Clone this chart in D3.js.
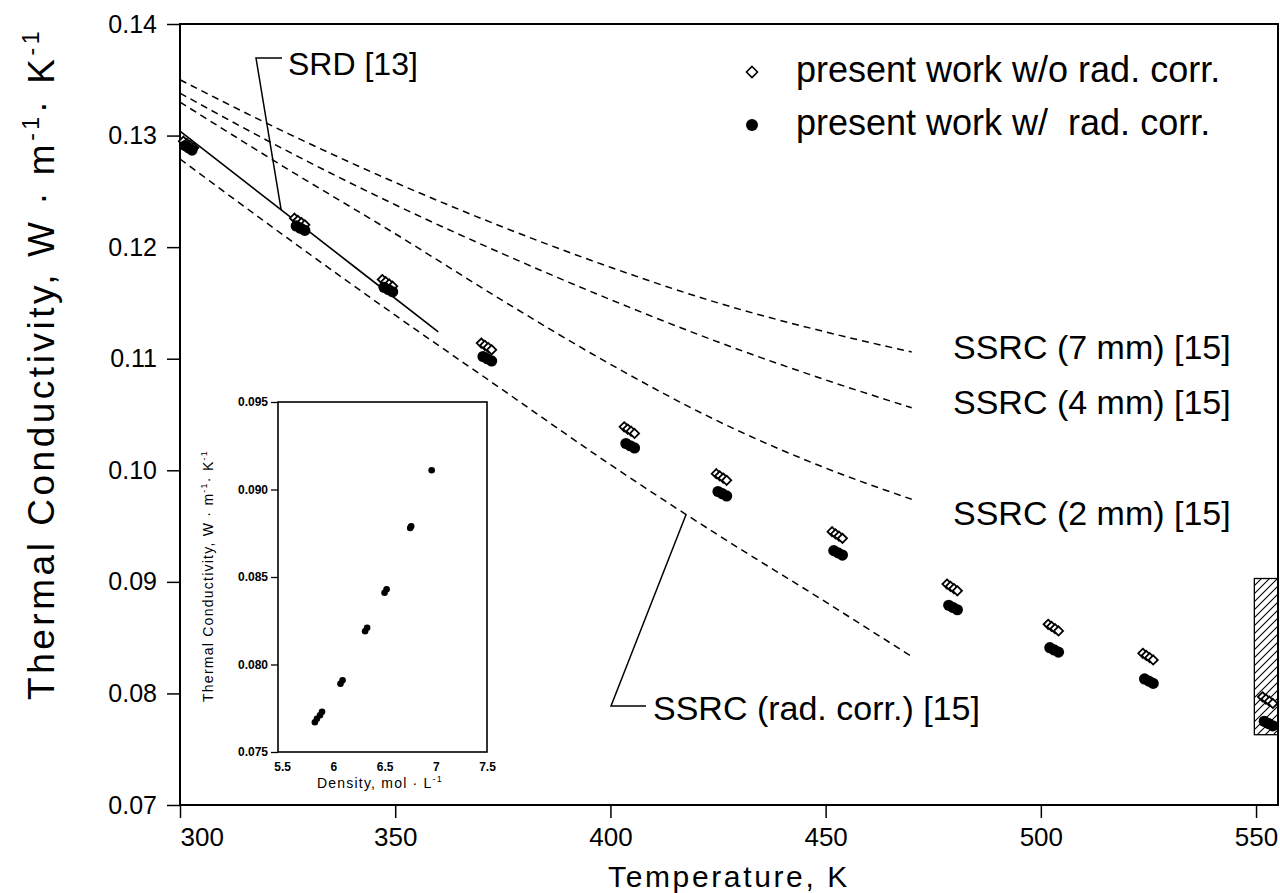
<!DOCTYPE html>
<html lang="en">

<head>
    <meta charset="utf-8">
    <title>Thermal conductivity vs temperature</title>
    <script type="text/javascript" src="https://d3js.org/d3.v7.min.js"></script>
    <style>
        body { margin: 0; background: #fff; }
        text { font-family: "Liberation Sans", Arial, Helvetica, sans-serif; fill: #000; }
    </style>
</head>

<body>
    <div id="container"></div>
    <script type="text/javascript">
        // tick values
        var tempTicks = [300, 350, 400, 450, 500, 550];
        var condTicks = [0.07, 0.08, 0.09, 0.10, 0.11, 0.12, 0.13, 0.14];
        var densTicks = [5.5, 6, 6.5, 7, 7.5];
        var insetCondTicks = [0.075, 0.080, 0.085, 0.090, 0.095];

        // present work w/o rad. corr. [T (K), lambda (W/m/K)]
        var woRadCorr = [
            [300.8, 0.1295], [301.6, 0.1293], [302.4, 0.1291], [303.2, 0.1289],
            [326.6, 0.1226], [327.4, 0.1224], [328.2, 0.1222], [329.0, 0.1220],
            [347.0, 0.1171], [347.8, 0.1169], [348.6, 0.1167], [349.4, 0.1165],
            [370.0, 0.1114], [370.8, 0.1112], [371.6, 0.1110], [372.4, 0.1108],
            [403.2, 0.1039], [404.0, 0.1037], [404.8, 0.1035], [405.6, 0.1033],
            [424.6, 0.0997], [425.4, 0.0995], [426.2, 0.0993], [427.0, 0.0991],
            [451.5, 0.0945], [452.3, 0.0943], [453.1, 0.0941], [453.9, 0.0939],
            [478.2, 0.0898], [479.0, 0.0896], [479.8, 0.0894], [480.6, 0.0892],
            [501.7, 0.0862], [502.5, 0.0860], [503.3, 0.0858], [504.1, 0.0856],
            [523.7, 0.0836], [524.5, 0.0834], [525.3, 0.0832], [526.1, 0.0830],
            [551.5, 0.0797], [552.3, 0.0795], [553.1, 0.0793], [553.9, 0.0791]
        ];

        // present work w/ rad. corr.
        var wRadCorr = [
            [301.2, 0.1291], [302.0, 0.1289], [302.8, 0.1287],
            [327.0, 0.1219], [328.0, 0.1217], [329.0, 0.1215],
            [347.4, 0.1164], [348.4, 0.1162], [349.4, 0.1160],
            [370.4, 0.1102], [371.4, 0.1100], [372.4, 0.1098],
            [403.6, 0.1024], [404.6, 0.1022], [405.6, 0.1020],
            [425.0, 0.0981], [426.0, 0.0979], [427.0, 0.0977],
            [451.9, 0.0928], [452.9, 0.0926], [453.9, 0.0924],
            [478.6, 0.0879], [479.6, 0.0877], [480.6, 0.0875],
            [502.1, 0.0841], [503.1, 0.0839], [504.1, 0.0837],
            [524.1, 0.0813], [525.1, 0.0811], [526.1, 0.0809],
            [551.9, 0.0775], [552.9, 0.0773], [553.9, 0.0771]
        ];

        // correlations
        var srd = [[300, 0.1304], [320, 0.1244], [340, 0.1184], [360, 0.1124]];
        var ssrc7mm = [[300, 0.1350], [325, 0.1302], [350, 0.1258], [375, 0.1218], [400, 0.1182], [425, 0.1150], [450, 0.1124], [470, 0.1106]];
        var ssrc4mm = [[300, 0.1338], [325, 0.1286], [350, 0.1238], [375, 0.1194], [400, 0.1153], [425, 0.1115], [450, 0.1081], [470, 0.1056]];
        var ssrc2mm = [[300, 0.1330], [325, 0.1270], [350, 0.1212], [375, 0.1152], [400, 0.1095], [425, 0.1044], [450, 0.1002], [470, 0.0974]];
        var ssrcRad = [[300, 0.1279], [325, 0.1208], [350, 0.1139], [375, 0.1072], [400, 0.1005], [425, 0.0942], [450, 0.0882], [470, 0.0833]];

        // hatched uncertainty band near 553 K: [T0, T1, lambda0, lambda1]
        var bandBox = [549.6, 555.1, 0.0763, 0.0903];

        // inset: density (mol/L) vs lambda
        var insetPoints = [
            [6.96, 0.0911],
            [6.75, 0.0878], [6.76, 0.0879],
            [6.50, 0.0841], [6.52, 0.0843],
            [6.31, 0.0819], [6.33, 0.0821],
            [6.07, 0.0789], [6.09, 0.0791],
            [5.87, 0.0771], [5.89, 0.0773],
            [5.82, 0.0767], [5.84, 0.0769]
        ];

        var legendLabels = ["present work w/o rad. corr.", "present work w/\u00a0 rad. corr."];
        var curveLabels = ["SSRC (7 mm) [15]", "SSRC (4 mm) [15]", "SSRC (2 mm) [15]", "SSRC (rad. corr.) [15]", "SRD [13]"];

        var w = 1280;
        var h = 893;
        const svg = d3.select("div#container")
            .append("svg")
            .attr("width", w)
            .attr("height", h)
            .style("background-color", "#fff");

        var x = d3.scaleLinear().domain([300, 555.1]).range([180, 1278]);
        var y = d3.scaleLinear().domain([0.07, 0.14]).range([805, 24]);

        // linear lookup along a curve
        function valueAt(series, t) {
            for (var i = 1; i < series.length; i++) {
                if (t <= series[i][0]) {
                    var a = series[i - 1], b = series[i];
                    return a[1] + (b[1] - a[1]) * (t - a[0]) / (b[0] - a[0]);
                }
            }
            return series[series.length - 1][1];
        }

        // stretch a text element to a given length with letter spacing
        function spreadTo(sel, target) {
            var node = sel.node();
            var len = node.getComputedTextLength();
            var n = node.textContent.length;
            sel.attr("letter-spacing", (target - len) / n);
        }

        function unitText(sel, before, mid) {
            sel.append("tspan").text(before);
            sel.append("tspan").attr("class", "sup").text("-1");
            if (mid != null) {
                sel.append("tspan").attr("class", "after").text(mid);
                sel.append("tspan").attr("class", "sup2").text("-1");
            }
        }

        // hatch pattern
        svg.append("defs").append("pattern")
            .attr("id", "hatch")
            .attr("patternUnits", "userSpaceOnUse")
            .attr("width", 8).attr("height", 8)
            .append("path")
            .attr("d", "M-2,2 l4,-4 M0,8 l8,-8 M6,10 l4,-4")
            .attr("stroke", "#000")
            .attr("stroke-width", 1.1);

        // axes
        var xAxis = svg.append("g")
            .attr("transform", "translate(0," + y(0.07) + ")")
            .call(d3.axisBottom(x).tickValues(tempTicks).tickSize(13).tickPadding(10).tickFormat(d3.format("d")));
        xAxis.select(".domain").remove();
        xAxis.selectAll("line").attr("stroke-width", 1.5);
        xAxis.selectAll("text").attr("font-size", 26).attr("font-family", "Liberation Sans, Arial, sans-serif");
        xAxis.selectAll("text").filter((d) => d === 300).attr("text-anchor", "start");

        var yAxis = svg.append("g")
            .attr("transform", "translate(" + x(300) + ",0)")
            .call(d3.axisLeft(y).tickValues(condTicks).tickSize(13).tickPadding(10).tickFormat(d3.format(".2f")));
        yAxis.select(".domain").remove();
        yAxis.selectAll("line").attr("stroke-width", 1.5);
        yAxis.selectAll("text").attr("font-size", 25).attr("font-family", "Liberation Sans, Arial, sans-serif");

        // frame
        svg.append("rect")
            .attr("x", x(300)).attr("y", y(0.14))
            .attr("width", x(555.1) - x(300)).attr("height", y(0.07) - y(0.14))
            .attr("fill", "none").attr("stroke", "#000").attr("stroke-width", 2);

        // axis titles
        var xt = svg.append("text")
            .attr("x", 608).attr("y", 887)
            .attr("font-size", 30)
            .text("Temperature, K");
        spreadTo(xt, 242);

        var yt = svg.append("text")
            .attr("transform", "translate(54,700) rotate(-90)")
            .attr("font-size", 37);
        unitText(yt, "Thermal Conductivity, W \u00b7 m", "\u00b7 K");
        yt.selectAll(".sup, .sup2").attr("font-size", 23).attr("dy", -15);
        yt.selectAll(".after").attr("dy", 15);
        spreadTo(yt, 672);

        // correlation lines
        var line = d3.line().x((d) => x(d[0])).y((d) => y(d[1]));
        var smooth = d3.line().x((d) => x(d[0])).y((d) => y(d[1])).curve(d3.curveMonotoneX);

        svg.selectAll("path.ssrc")
            .data([ssrc7mm, ssrc4mm, ssrc2mm, ssrcRad])
            .enter()
            .append("path")
            .attr("class", "ssrc")
            .attr("d", smooth)
            .attr("fill", "none")
            .attr("stroke", "#000")
            .attr("stroke-width", 1.5)
            .attr("stroke-dasharray", "7,5");

        svg.append("path")
            .attr("d", line(srd))
            .attr("fill", "none")
            .attr("stroke", "#000")
            .attr("stroke-width", 1.6);

        // hatched box
        svg.append("rect")
            .attr("x", x(bandBox[0])).attr("y", y(bandBox[3]))
            .attr("width", x(bandBox[1]) - x(bandBox[0]))
            .attr("height", y(bandBox[2]) - y(bandBox[3]))
            .attr("fill", "url(#hatch)")
            .attr("stroke", "#000")
            .attr("stroke-width", 1.3);

        // data points
        var diamond = (r) => "M0," + (-r) + "L" + r + ",0L0," + r + "L" + (-r) + ",0Z";

        svg.selectAll("path.wo")
            .data(woRadCorr)
            .enter()
            .append("path")
            .attr("class", "wo")
            .attr("d", diamond(4.6))
            .attr("transform", (d) => "translate(" + x(d[0]) + "," + y(d[1]) + ")")
            .attr("fill", "#fff")
            .attr("stroke", "#000")
            .attr("stroke-width", 1.8);

        svg.selectAll("circle.w")
            .data(wRadCorr)
            .enter()
            .append("circle")
            .attr("class", "w")
            .attr("cx", (d) => x(d[0]))
            .attr("cy", (d) => y(d[1]))
            .attr("r", 5.6)
            .attr("fill", "#000");

        // curve labels
        var labelPos = [[953, 359], [953, 414], [953, 525]];
        svg.selectAll("text.clabel")
            .data(labelPos)
            .enter()
            .append("text")
            .attr("class", "clabel")
            .attr("x", (d) => d[0])
            .attr("y", (d) => d[1])
            .attr("font-size", 34)
            .text((d, i) => curveLabels[i]);

        svg.append("text")
            .attr("x", 653).attr("y", 720)
            .attr("font-size", 34)
            .text(curveLabels[3]);

        svg.append("text")
            .attr("x", 288).attr("y", 75)
            .attr("font-size", 32)
            .text(curveLabels[4]);

        // leader lines
        var srdT = 323.5;
        svg.append("path")
            .attr("d", "M282,58H256L" + x(srdT) + "," + y(valueAt(srd, srdT)))
            .attr("fill", "none").attr("stroke", "#000").attr("stroke-width", 1.5);

        var radT = 417.6;
        svg.append("path")
            .attr("d", "M" + x(radT) + "," + y(valueAt(ssrcRad, radT)) + "L611,706H646")
            .attr("fill", "none").attr("stroke", "#000").attr("stroke-width", 1.5);

        // legend
        svg.append("path")
            .attr("d", diamond(5.5))
            .attr("transform", "translate(752,72)")
            .attr("fill", "#fff").attr("stroke", "#000").attr("stroke-width", 1.6);
        svg.append("circle")
            .attr("cx", 752).attr("cy", 125).attr("r", 6)
            .attr("fill", "#000");
        svg.selectAll("text.leg")
            .data(legendLabels)
            .enter()
            .append("text")
            .attr("class", "leg")
            .attr("x", 796)
            .attr("y", (d, i) => 82 + i * 53)
            .attr("font-size", 36)
            .text((d) => d);

        // ---- inset ----
        var ix = d3.scaleLinear().domain([5.46, 7.5]).range([278, 487]);
        var iy = d3.scaleLinear().domain([0.075, 0.095]).range([752, 402]);

        svg.append("rect")
            .attr("x", ix(5.46)).attr("y", iy(0.095))
            .attr("width", ix(7.5) - ix(5.46)).attr("height", iy(0.075) - iy(0.095))
            .attr("fill", "#fff").attr("stroke", "#000").attr("stroke-width", 1.6);

        var iyAxis = svg.append("g")
            .attr("transform", "translate(" + ix(5.46) + ",0)")
            .call(d3.axisLeft(iy).tickValues(insetCondTicks).tickSize(7).tickPadding(3).tickFormat(d3.format(".3f")));
        iyAxis.select(".domain").remove();
        iyAxis.selectAll("line").attr("stroke-width", 1.3);
        iyAxis.selectAll("text").attr("font-size", 12).attr("font-weight", "bold")
            .attr("font-family", "Liberation Sans, Arial, sans-serif");

        var ixAxis = svg.append("g")
            .attr("transform", "translate(0," + iy(0.075) + ")")
            .call(d3.axisBottom(ix).tickValues(densTicks).tickSize(0).tickPadding(10).tickFormat((d) => String(d)));
        ixAxis.select(".domain").remove();
        ixAxis.selectAll("text").attr("font-size", 12).attr("font-weight", "bold")
            .attr("font-family", "Liberation Sans, Arial, sans-serif");

        svg.selectAll("circle.ins")
            .data(insetPoints)
            .enter()
            .append("circle")
            .attr("class", "ins")
            .attr("cx", (d) => ix(d[0]))
            .attr("cy", (d) => iy(d[1]))
            .attr("r", 3.3)
            .attr("fill", "#000");

        var ixt = svg.append("text")
            .attr("x", 317).attr("y", 788)
            .attr("font-size", 14);
        unitText(ixt, "Density, mol \u00b7 L", null);
        ixt.selectAll(".sup").attr("font-size", 9).attr("dy", -6);
        spreadTo(ixt, 126);

        var iyt = svg.append("text")
            .attr("transform", "translate(213,702) rotate(-90)")
            .attr("font-size", 14);
        unitText(iyt, "Thermal Conductivity, W \u00b7 m", "\u00b7 K");
        iyt.selectAll(".sup, .sup2").attr("font-size", 9).attr("dy", -6);
        iyt.selectAll(".after").attr("dy", 6);
        spreadTo(iyt, 252);
    </script>
</body>

</html>
